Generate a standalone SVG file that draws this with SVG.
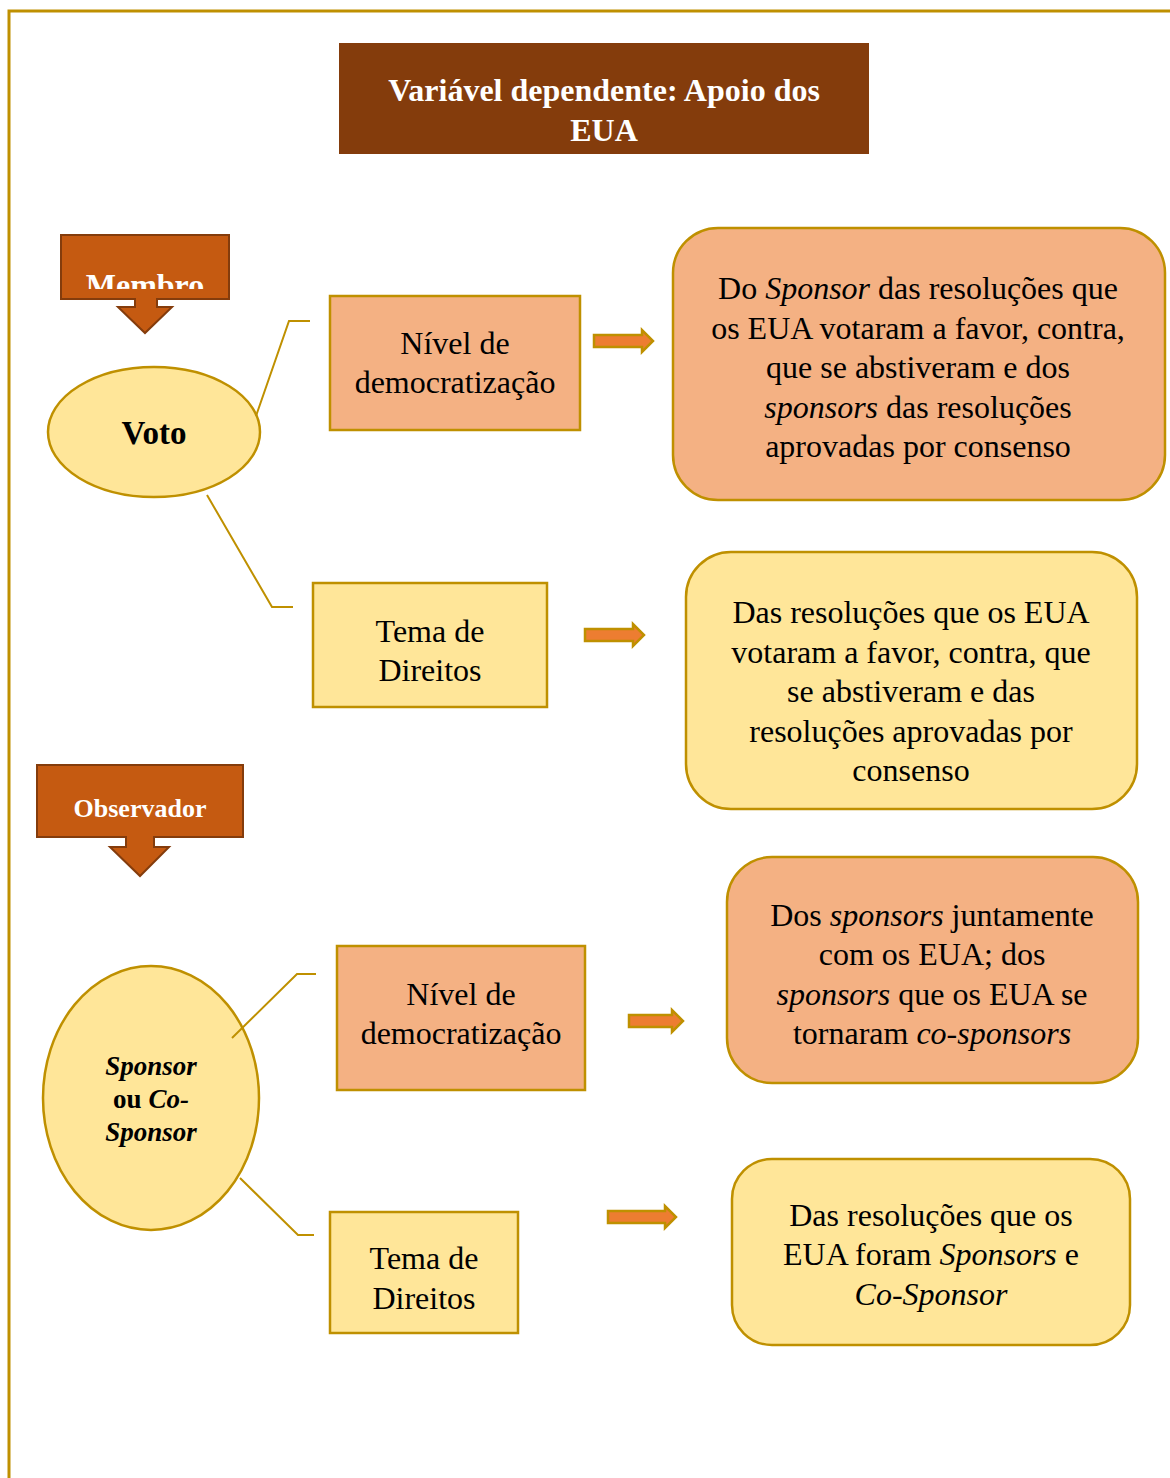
<svg xmlns="http://www.w3.org/2000/svg" width="1170" height="1478" viewBox="0 0 1170 1478">
<style>
.t{font-family:"Liberation Serif","Times New Roman",serif;font-size:32px;fill:#000;text-anchor:middle}
.w{font-family:"Liberation Serif","Times New Roman",serif;font-weight:bold;fill:#fff;text-anchor:middle}
.b{font-family:"Liberation Serif","Times New Roman",serif;font-weight:bold;fill:#000;text-anchor:middle}
.peach{fill:#F4B183;stroke:#BF9000;stroke-width:2.5}
.yel{fill:#FFE699;stroke:#BF9000;stroke-width:2.5}
.conn{fill:none;stroke:#BF9000;stroke-width:2}
.orn{fill:#C55A11;stroke:#843C0C;stroke-width:2}
.arr{fill:#ED7D31;stroke:#BF9000;stroke-width:2.5}
</style>
<defs>
<clipPath id="clipM"><rect x="61" y="235" width="168" height="54"/></clipPath>
</defs>
<rect width="1170" height="1478" fill="#fff"/>
<rect x="9" y="11" width="1180" height="1490" fill="none" stroke="#BF9000" stroke-width="3"/>

<g id="title">
<rect x="339" y="43" width="530" height="111" fill="#843C0C"/>
<text class="w" x="604" y="101" font-size="32">Variável dependente: Apoio dos</text>
<text class="w" x="604" y="141" font-size="32">EUA</text>
</g>

<g id="membro">
<path class="orn" d="M61,235 H229 V299 H157 V307 H172 L145,333 L118,307 H135 V299 H61 Z"/>
<text class="w" x="145" y="296" font-size="32" clip-path="url(#clipM)">Membro</text>
</g>

<g id="voto">
<ellipse cx="154" cy="432" rx="106" ry="65" fill="#FFE699" stroke="#BF9000" stroke-width="2.5"/>
<text class="b" x="154" y="444" font-size="33">Voto</text>
</g>

<g id="nivel1">
<rect class="peach" x="330" y="296" width="250" height="134"/>
<text class="t" x="455" y="354">Nível de</text>
<text class="t" x="455" y="393">democratização</text>
</g>

<g id="res1">
<rect class="peach" x="673" y="228" width="492" height="272" rx="45"/>
<text class="t" x="918" y="299">Do <tspan font-style="italic">Sponsor</tspan> das resoluções que</text>
<text class="t" x="918" y="339">os EUA votaram a favor, contra,</text>
<text class="t" x="918" y="378">que se abstiveram e dos</text>
<text class="t" x="918" y="418"><tspan font-style="italic">sponsors</tspan> das resoluções</text>
<text class="t" x="918" y="457">aprovadas por consenso</text>
</g>

<g id="tema1">
<rect class="yel" x="313" y="583" width="234" height="124"/>
<text class="t" x="430" y="642">Tema de</text>
<text class="t" x="430" y="681">Direitos</text>
</g>

<g id="res2">
<rect class="yel" x="686" y="552" width="451" height="257" rx="45"/>
<text class="t" x="911" y="623">Das resoluções que os EUA</text>
<text class="t" x="911" y="663">votaram a favor, contra, que</text>
<text class="t" x="911" y="702">se abstiveram e das</text>
<text class="t" x="911" y="742">resoluções aprovadas por</text>
<text class="t" x="911" y="781">consenso</text>
</g>

<g id="observador">
<path class="orn" d="M37,765 H243 V837 H154 V847 H169 L140,876 L110,847 H126 V837 H37 Z"/>
<text class="w" x="140" y="817" font-size="26">Observador</text>
</g>

<g id="sponsor">
<ellipse cx="151" cy="1098" rx="108" ry="132" fill="#FFE699" stroke="#BF9000" stroke-width="2.5"/>
<text class="b" x="151" y="1075" font-size="27" font-style="italic">Sponsor</text>
<text class="b" x="151" y="1108" font-size="27">ou <tspan font-style="italic">Co-</tspan></text>
<text class="b" x="151" y="1141" font-size="27" font-style="italic">Sponsor</text>
</g>

<g id="nivel2">
<rect class="peach" x="337" y="946" width="248" height="144"/>
<text class="t" x="461" y="1005">Nível de</text>
<text class="t" x="461" y="1044">democratização</text>
</g>

<g id="res3">
<rect class="peach" x="727" y="857" width="411" height="226" rx="45"/>
<text class="t" x="932" y="926">Dos <tspan font-style="italic">sponsors</tspan> juntamente</text>
<text class="t" x="932" y="965">com os EUA; dos</text>
<text class="t" x="932" y="1005"><tspan font-style="italic">sponsors</tspan> que os EUA se</text>
<text class="t" x="932" y="1044">tornaram <tspan font-style="italic">co-sponsors</tspan></text>
</g>

<g id="tema2">
<rect class="yel" x="330" y="1212" width="188" height="121"/>
<text class="t" x="424" y="1269">Tema de</text>
<text class="t" x="424" y="1309">Direitos</text>
</g>

<g id="res4">
<rect class="yel" x="732" y="1159" width="398" height="186" rx="40"/>
<text class="t" x="931" y="1226">Das resoluções que os</text>
<text class="t" x="931" y="1265">EUA foram <tspan font-style="italic">Sponsors</tspan> e</text>
<text class="t" x="931" y="1305"><tspan font-style="italic">Co-Sponsor</tspan></text>
</g>

<g id="connectors">
<polyline class="conn" points="256,416 289,321 310,321"/>
<polyline class="conn" points="207,495 272,607 293,607"/>
<polyline class="conn" points="232,1038 297,974 316,974"/>
<polyline class="conn" points="240,1178 298,1235 314,1235"/>
<path class="arr" d="M594,335 H642 V330 L653,341 L642,352 V347 H594 Z"/>
<path class="arr" d="M585,629 H633 V624 L644,635 L633,646 V641 H585 Z"/>
<path class="arr" d="M629,1015 H672 V1010 L683,1021 L672,1032 V1027 H629 Z"/>
<path class="arr" d="M608,1211 H665 V1206 L676,1217 L665,1228 V1223 H608 Z"/>
</g>
</svg>
